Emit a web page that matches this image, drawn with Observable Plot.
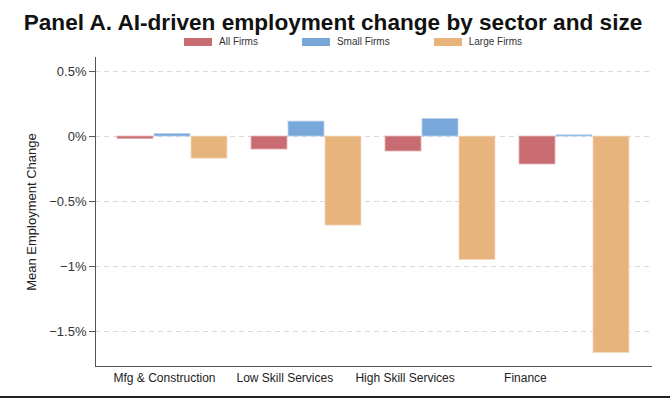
<!DOCTYPE html>
<html>
<head>
<meta charset="utf-8">
<script src="https://cdn.jsdelivr.net/npm/d3@7"></script>
<script src="https://cdn.jsdelivr.net/npm/@observablehq/plot@0.6"></script>
<style>
  html, body { margin: 0; padding: 0; background: #fff; }
  body { width: 670px; height: 398px; position: relative; overflow: hidden;
         font-family: "Liberation Sans", Arial, Helvetica, sans-serif; }
  #title { position: absolute; left: 0; top: 12px; width: 670px; text-align: center;
           font-size: 22.6px; line-height: 22px; font-weight: bold; color: #111; margin-left: -2px; }
  #legend { position: absolute; left: 184px; top: 37px; display: flex; align-items: center;
            font-size: 10px; line-height: 10px; color: #333; }
  #legend .item { display: flex; align-items: center; margin-right: 44px; }
  #legend .sw { width: 28px; height: 7.5px; margin-right: 7px; }
  #chart { position: absolute; left: 0; top: 0; }
  #rule { position: absolute; left: 0; top: 396px; width: 670px; height: 2px; background: #222; }
</style>
</head>
<body>
<div id="chart"></div>
<div id="title">Panel A. AI-driven employment change by sector and size</div>
<div id="legend"></div>
<div id="rule"></div>
<script>
// Mean employment change (%) by sector, for all firms and by firm size
const sectors = ["Mfg & Construction", "Low Skill Services", "High Skill Services", "Finance"];
const allFirms = [-0.02, -0.10, -0.115, -0.215];
const smallFirms = [0.02, 0.115, 0.135, 0.01];
const largeFirms = [-0.17, -0.685, -0.95, -1.665];
const seriesNames = ["All Firms", "Small Firms", "Large Firms"];
const yTicks = [0.5, 0, -0.5, -1, -1.5];
const yTitle = "Mean Employment Change";

const colors = ["#c86c72", "#78a8da", "#e7b47d"];
const edges = ["#e3b3b6", "#bcd4ee", "#f4dcc0"];

const seriesValues = [allFirms, smallFirms, largeFirms];
const rows = seriesNames.map((name, k) =>
  sectors.map((sector, i) => ({sector, series: name, value: seriesValues[k][i]}))
);

const W = 670, H = 398;
const mL = 95, mR = 19, mT = 57, mB = 32;

const padIn = 0.176, padOut = 0.152;
const band = (W - mL - mR) / (sectors.length - padIn + 2 * padOut) * (1 - padIn);
const third = band / 3;

const fmt = d => (d < 0 ? "\u2212" : "") + Math.abs(d) + "%";

// legend
const legend = document.getElementById("legend");
seriesNames.forEach((name, k) => {
  const item = document.createElement("div");
  item.className = "item";
  const sw = document.createElement("div");
  sw.className = "sw";
  sw.style.background = colors[k];
  const lab = document.createElement("span");
  lab.textContent = name;
  item.appendChild(sw);
  item.appendChild(lab);
  legend.appendChild(item);
});

// x labels sit slightly left of their groups, drifting further with each group
const labelMarks = sectors.map((s, i) =>
  Plot.text([s], {x: d => d, text: d => d, frameAnchor: "bottom", dy: 15, lineAnchor: "bottom",
                  dx: -8 - 13.7 * i, fontSize: 12, fill: "#222"})
);

const chart = Plot.plot({
  width: W,
  height: H,
  marginLeft: mL,
  marginRight: mR,
  marginTop: mT,
  marginBottom: mB,
  style: {fontFamily: "'Liberation Sans', Arial, Helvetica, sans-serif", background: "transparent", overflow: "visible"},
  x: {domain: sectors, paddingInner: padIn, paddingOuter: padOut, axis: null},
  y: {domain: [-1.769, 0.608], axis: null},
  marks: [
    Plot.gridY(yTicks, {stroke: "#d8d8d8", strokeOpacity: 1, strokeDasharray: "5,4"}),
    ...rows.map((data, k) =>
      Plot.barY(data, {
        x: "sector", y: "value", fill: colors[k], stroke: edges[k], strokeWidth: 0.8,
        insetLeft: k * third, insetRight: (2 - k) * third
      })
    ),
    Plot.axisY(yTicks, {
      tickSize: 6, tickPadding: 3, tickFormat: fmt, fontSize: 13, stroke: "#555", color: "#333",
      label: null
    }),
    Plot.text([yTitle], {
      text: d => d, frameAnchor: "left", rotate: -90, dx: -64, textAnchor: "middle",
      lineAnchor: "middle", fontSize: 13, fill: "#222"
    }),
    Plot.frame({anchor: "left", stroke: "#555"}),
    Plot.frame({anchor: "bottom", stroke: "#555"}),
    ...labelMarks
  ]
});
document.getElementById("chart").appendChild(chart);
</script>
</body>
</html>
